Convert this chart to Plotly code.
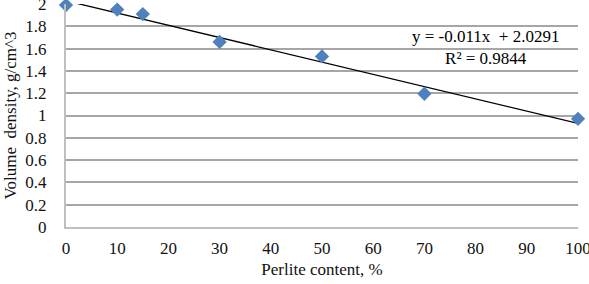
import plotly.graph_objects as go

perlite = [0, 10, 15, 30, 50, 70, 100]
density = [1.99, 1.95, 1.91, 1.66, 1.53, 1.195, 0.97]
trend_x = [0, 100]
slope = -0.011
intercept = 2.0291
r2 = 0.9844
trend_y = [slope * x + intercept for x in trend_x]

x_ticks = list(range(0, 101, 10))
y_ticks = [0, 0.2, 0.4, 0.6, 0.8, 1, 1.2, 1.4, 1.6, 1.8, 2]
y_ticklabels = ["0", "0.2", "0.4", "0.6", "0.8", "1", "1.2", "1.4", "1.6", "1.8", "2"]

font = "Liberation Serif, Times New Roman, serif"

fig = go.Figure()
fig.add_trace(go.Scatter(x=trend_x, y=trend_y, mode="lines",
                         line=dict(color="black", width=1.3), showlegend=False))
fig.add_trace(go.Scatter(x=perlite, y=density, mode="markers",
                         marker=dict(symbol="diamond", size=11, color="#4F81BD"),
                         showlegend=False, cliponaxis=False))

fig.add_annotation(x=82, y=1.61, xref="x", yref="y",
                   text=f"y = {slope}x  + {intercept}<br>R² = {r2}",
                   showarrow=False, align="center",
                   font=dict(family=font, size=17, color="black"))

fig.update_layout(
    width=589, height=284,
    margin=dict(l=66, r=11, t=4, b=57),
    paper_bgcolor="white", plot_bgcolor="white",
    font=dict(family=font, size=17, color="#111111"),
)
fig.update_xaxes(range=[0, 100], tickvals=x_ticks, showgrid=False,
                 showline=True, linecolor="#BFBFBF", linewidth=2,
                 ticks="outside", ticklen=5, tickcolor="rgba(0,0,0,0)",
                 ticklabeloverflow="allow", automargin=False,
                 zeroline=False,
                 title=dict(text="Perlite content, %", standoff=6,
                            font=dict(family=font, size=17, color="#111111")))
fig.update_yaxes(range=[0, 2], tickvals=y_ticks, ticktext=y_ticklabels,
                 showgrid=True, gridcolor="#A6A6A6", gridwidth=1.5,
                 showline=True, linecolor="#BFBFBF", linewidth=2,
                 ticks="outside", ticklen=14, tickcolor="rgba(0,0,0,0)",
                 ticklabeloverflow="allow", automargin=False,
                 zeroline=False,
                 title=dict(text="Volume  density, g/cm^3", standoff=4,
                            font=dict(family=font, size=17, color="#111111")))

fig.write_html("out.html")
